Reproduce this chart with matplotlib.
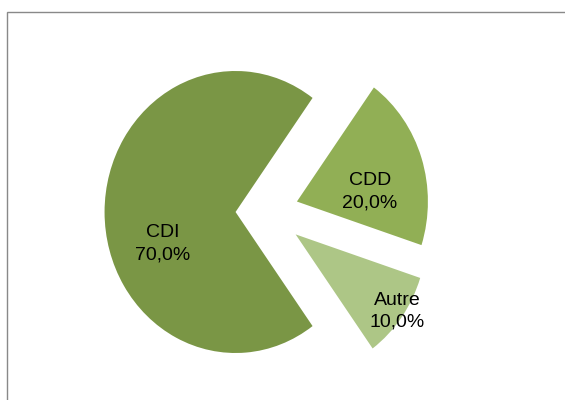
import numpy as np
import matplotlib
matplotlib.use('Agg')
import matplotlib.pyplot as plt
from matplotlib.patches import Rectangle

# data
labels = ['CDI', 'CDD', 'Autre']
shares = [70.0, 20.0, 10.0]
colors = ['#7A9645', '#91AF55', '#ADC686']
explode = [0.24, 0.24, 0.27]
# label placement (distance from wedge tip, angle in degrees)
label_r = [0.60, 0.56, 0.95]
label_ang = [202, 7, -35]

plt.rcParams['font.family'] = ['Liberation Sans', 'DejaVu Sans']

fig = plt.figure(figsize=(5.65, 4.0), dpi=100)
ax = fig.add_axes([0, 0, 1, 1])
wedges, texts = ax.pie(shares, colors=colors, explode=explode,
                       startangle=-54, counterclock=False, radius=1.0,
                       wedgeprops=dict(linewidth=0))
for t in texts:
    t.set_visible(False)
for w, lab, v, r, a in zip(wedges, labels, shares, label_r, label_ang):
    cx, cy = w.center
    th = np.deg2rad(a)
    ax.text(cx + r*np.cos(th), cy + r*np.sin(th),
            lab + '\n' + ('%.1f%%' % v).replace('.', ','),
            ha='center', va='center', fontsize=14, color='black',
            linespacing=1.4)

# slightly stretched vertically like the original
ax.set_aspect('auto')
ax.set_xlim(-267/131, (565-267)/131)
ax.set_ylim(-(400-212)/141, 212/141)
ax.axis('off')

# chart frame
fig.patches.append(Rectangle((7/565, -0.1), 1.2, 0.97 + 0.1, fill=False,
                             edgecolor='#898989', linewidth=1.0,
                             transform=fig.transFigure, figure=fig))

fig.savefig('out.png', dpi=100)
